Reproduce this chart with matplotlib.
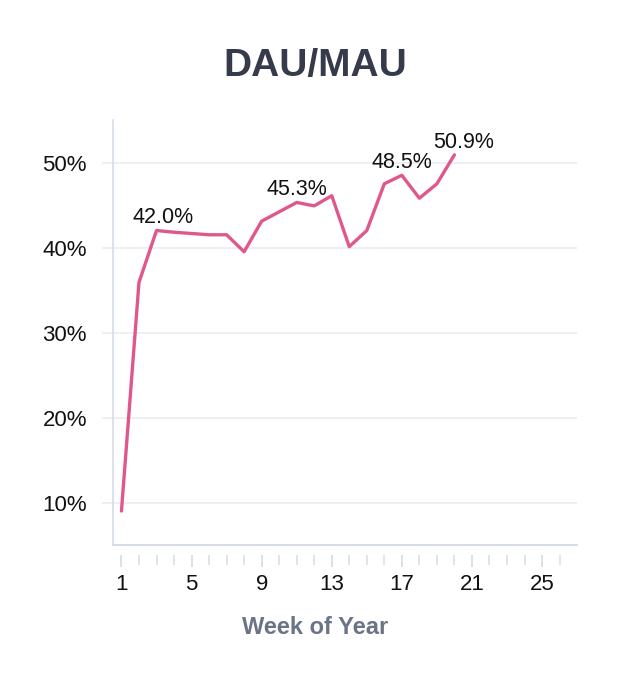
import numpy as np
import matplotlib.pyplot as plt
from matplotlib.ticker import MultipleLocator, FuncFormatter

# weekly DAU/MAU ratio (%)
weeks = list(range(1, 21))
ratio = [9.0, 35.9, 42.0, 41.8, 41.65, 41.5, 41.5, 39.5, 43.1, 44.2,
         45.3, 44.9, 46.1, 40.1, 42.0, 47.5, 48.5, 45.8, 47.5, 50.9]
label_weeks = [3, 11, 17, 20]
label_dx = [4.5, 0, 0, 6.5]  # small nudges (points) seen in the original

plt.rcParams['font.family'] = ['Liberation Sans', 'DejaVu Sans']

fig = plt.figure(figsize=(6.31, 6.80), dpi=100)
ax = fig.add_axes([0.1786, 0.1985, 0.7354, 0.625])

line_col = '#e0588b'
grid_col = '#e9edf3'
spine_col = '#d6dde8'

ax.plot(weeks, ratio, color=line_col, lw=2.4, solid_capstyle='round', zorder=3)

for w, dx in zip(label_weeks, label_dx):
    v = ratio[weeks.index(w)]
    ax.annotate(f'{v:.1f}%', (w, v), xytext=(dx, 1.5), textcoords='offset points',
                ha='center', va='bottom', fontsize=15.5, color='#111111')

ax.set_xlim(0.5, 26.98)
ax.set_ylim(5, 55)
ax.xaxis.set_major_locator(MultipleLocator(4, offset=1))
ax.xaxis.set_minor_locator(MultipleLocator(1))
ax.set_yticks([10, 20, 30, 40, 50])
ax.yaxis.set_major_formatter(FuncFormatter(lambda v, p: f'{v:.0f}%'))

ax.grid(axis='y', color=grid_col, lw=1.2)
ax.set_axisbelow(True)
for s in ['top', 'right']:
    ax.spines[s].set_visible(False)
ax.spines['left'].set_color(spine_col)
ax.spines['left'].set_linewidth(1.2)
# ticks sit a little below the axis line
ax.spines['bottom'].set_position(('outward', 7.5))
ax.spines['bottom'].set_visible(False)
ax.axhline(5, color=spine_col, lw=1.4, clip_on=False, zorder=2)

ax.tick_params(axis='x', which='major', length=8.5, width=1.3, color=spine_col,
               labelsize=16, pad=5, labelcolor='#111111')
ax.tick_params(axis='x', which='minor', length=7, width=1.1, color=spine_col)
ax.tick_params(axis='y', which='major', length=8, width=1.2, color=grid_col,
               labelsize=16, pad=10.5, labelcolor='#111111')

fig.text(0.5, 0.903, 'DAU/MAU', ha='center', va='center', fontsize=28,
         fontweight='bold', color='#353b4b')
fig.text(0.5, 0.0765, 'Week of Year', ha='center', va='center', fontsize=17,
         fontweight='bold', color='#6b7386')

fig.savefig('out.png', dpi=100, facecolor='white')
